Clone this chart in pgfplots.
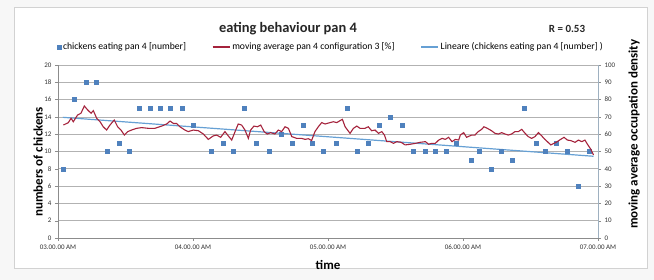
\documentclass[border=0pt]{standalone}
\usepackage{pgfplots}
\pgfplotsset{compat=1.18}
\usepackage{pgfplotstable}
\usepackage{fontspec}
\setmainfont{Carlito}
\definecolor{ptblue}{RGB}{79,129,189}
\definecolor{avgred}{RGB}{165,35,60}
\definecolor{trendblue}{RGB}{102,160,212}
\definecolor{gridgray}{RGB}{178,178,178}
\definecolor{axgray}{RGB}{140,140,140}
\definecolor{tickgray}{RGB}{50,50,50}

\pgfplotstableread{
t n
2.2 8
7 16
12.4 18
17 18
22 10
27 11
31.5 10
36 15
41 15
45.5 15
50 15
55 15
60 13
68 10
73.5 11
78 10
82.7 15
88 11
94 10
99 12
104 11
109 13
113 11
118 10
123.5 11
128.5 15
133 10
138 11
142.7 13
147.6 14
153 13
158 10
163 10
167.5 10
172.5 10
177 11
183.5 9
187 10
192.4 8
197 10
202 9
207 15
212.4 11
216.4 10
221.5 11
226.4 10
231 6
236 10
}\chickens

\pgfplotstableread{
t n
2.2 13.95
238 9.45
}\trend

\pgfplotstableread{
t p
2.4 65.3
4.6 66.7
5.8 69.2
6.8 67.2
8.7 71.1
10.2 72.1
11.7 76.3
13.2 74.0
14.7 72.1
15.7 73.6
17.2 69.2
18.7 67.2
20.1 64.3
21.6 62.4
23.1 65.3
25.0 68.2
26.5 64.3
28.0 62.4
29.5 59.5
31.0 61.5
32.7 62.4
35.0 63.4
37.2 63.8
40.1 63.4
43.1 63.4
46.1 64.7
48.3 65.9
49.8 67.6
51.3 66.2
52.7 66.2
54.2 64.3
56.4 62.4
57.9 61.5
60.1 62.4
62.4 62.0
64.6 60.1
66.8 57.0
69.0 59.0
70.5 59.5
72.3 58.2
74.2 61.5
75.7 59.0
77.2 56.6
78.7 61.5
80.1 65.9
81.6 65.3
83.1 62.4
84.6 57.6
85.6 62.4
87.1 64.7
88.6 64.3
90.1 65.3
91.6 61.5
93.0 60.1
94.5 60.9
96.4 60.1
97.9 62.4
99.4 61.5
100.9 64.3
102.4 63.4
103.9 58.6
106.1 57.6
108.3 57.6
109.8 57.0
111.3 57.4
112.7 56.3
114.2 61.5
115.7 64.3
117.2 66.7
118.7 65.9
120.9 66.7
122.4 67.2
123.9 66.7
125.3 67.8
126.4 68.6
127.6 64.3
129.8 60.5
131.3 63.4
132.8 64.7
134.2 63.4
136.4 63.4
137.9 64.3
139.4 62.0
140.9 62.4
142.4 60.5
143.9 61.5
145.1 59.5
146.1 55.7
147.6 55.7
149.1 54.7
150.6 55.7
152.5 55.3
154.3 53.8
156.6 54.2
158.8 54.7
161.0 55.3
163.3 55.7
164.7 54.2
166.2 54.7
167.7 54.7
169.2 56.6
170.7 57.6
172.1 57.0
173.6 58.2
175.1 55.7
176.6 57.0
178.1 56.6
178.8 59.5
180.3 60.9
181.6 58.2
183.8 59.5
185.3 59.5
186.8 61.5
188.3 62.8
189.3 64.3
190.8 63.4
192.7 62.0
194.2 60.5
195.7 60.1
197.2 60.9
198.7 60.1
200.1 59.5
201.6 60.1
203.1 61.5
204.6 61.5
206.1 62.8
207.6 60.5
209.0 58.6
210.5 57.6
212.0 58.6
213.5 60.9
215.0 59.0
216.4 57.0
217.5 55.7
219.0 53.8
220.4 54.7
221.9 55.7
223.4 57.0
224.9 58.2
226.4 56.6
227.9 56.3
229.8 55.3
231.3 56.6
232.8 55.7
234.2 56.6
235.3 54.2
236.8 51.3
238.0 48.0
}\movavg

\begin{document}
\begin{tikzpicture}
\fill[gray!6] (0,0) rectangle (654bp,280bp);
\fill[white,draw=gray!35] (14bp,12bp) rectangle (647bp,273bp);
\useasboundingbox (0,0) rectangle (654bp,280bp);
\node[font=\bfseries\fontsize{14.5}{16}\selectfont, text=black!85] at (288bp,251bp) {eating behaviour pan 4};
\node[font=\bfseries\fontsize{11}{13}\selectfont, text=black!85] at (567bp,251bp) {R = 0.53};
\begin{axis}[
  at={(58bp,42bp)}, anchor=south west,
  scale only axis, width=540bp, height=173bp,
  xmin=0, xmax=240, ymin=0, ymax=20,
  axis y line*=left, axis x line*=bottom,
  axis line style={axgray, line width=0.7pt},
  xtick={0,60,120,180,240},
  xticklabels={03.00.00 AM,04.00.00 AM,05.00.00 AM,06.00.00 AM,07.00.00 AM},
  ytick={0,2,...,20},
  ymajorgrids, grid style={gridgray, line width=0.8pt},
  tick align=outside, major tick length=3bp, tick style={axgray},
  /pgf/number format/assume math mode=true,
  ticklabel style={font=\fontsize{7}{8}\selectfont, text=tickgray},
  xlabel={time}, ylabel={numbers of chickens},
  xlabel style={at={(rel axis cs:0.5,-0.156)}, anchor=center, font=\bfseries\fontsize{13}{15}\selectfont},
  ylabel style={at={(rel axis cs:-0.037,0.44)}, anchor=center, font=\bfseries\fontsize{13}{15}\selectfont},
  legend columns=3,
  legend style={at={(rel axis cs:-0.004,1.104)}, anchor=west, draw=none, fill=none,
    font=\fontsize{9.7}{11}\selectfont, inner sep=1pt,
    /tikz/every even column/.append style={column sep=24bp}},
  legend cell align=left,
]
\addplot[only marks, mark=square*, mark size=2bp, color=ptblue] table[x=t,y=n] {\chickens};
\addlegendentry{chickens eating pan 4 [number]}
\addlegendimage{avgred, line width=1.2pt}
\addlegendentry{moving average pan 4 configuration 3 [\%]}
\addplot[trendblue, line width=1.2pt] table[x=t,y=n] {\trend};
\addlegendentry{Lineare (chickens eating pan 4 [number] )}
\end{axis}
\begin{axis}[
  at={(58bp,42bp)}, anchor=south west,
  scale only axis, width=540bp, height=173bp,
  xmin=0, xmax=240, ymin=0, ymax=100,
  axis y line*=right, axis x line=none,
  axis line style={trendblue!45!gray!70, line width=0.7pt},
  ytick={0,10,...,100},
  tick align=outside, major tick length=3bp, tick style={axgray},
  /pgf/number format/assume math mode=true,
  ticklabel style={font=\fontsize{7}{8}\selectfont, text=tickgray},
  ylabel={moving average occupation density},
  ylabel style={at={(rel axis cs:1.067,0.60)}, anchor=center, rotate=0, font=\bfseries\fontsize{13}{15}\selectfont},
]
\addplot[avgred, line width=1.1pt] table[x=t,y=p] {\movavg};
\end{axis}
\end{tikzpicture}
\end{document}
